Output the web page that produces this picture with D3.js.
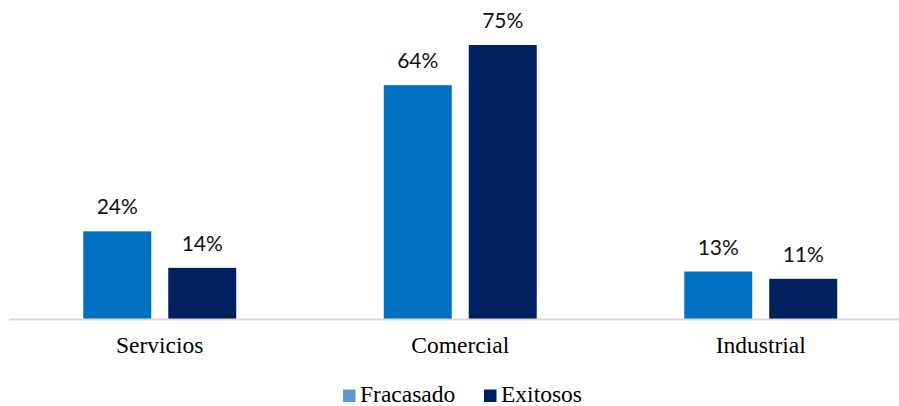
<!DOCTYPE html>
<html>
<head>
<meta charset="utf-8">
<script src="https://cdn.jsdelivr.net/npm/d3@7"></script>
<style>
  html, body { margin: 0; padding: 0; background: #fff; }
  svg { display: block; }
</style>
</head>
<body>
<svg id="chart" width="899" height="406"></svg>
<script>
// Sector categories and series values (percent)
const categories = ["Servicios", "Comercial", "Industrial"];
const seriesNames = ["Fracasado", "Exitosos"];
const fracasado = [24, 64, 13];
const exitosos = [14, 75, 11];

const barColors = { Fracasado: "#0070C0", Exitosos: "#002060" };
const legendColors = { Fracasado: "#5B9BD5", Exitosos: "#002060" };

const width = 899, height = 406;
const baseY = 319;
const svg = d3.select("#chart");

const rows = categories.map((c, i) => ({
  category: c,
  values: [
    { series: "Fracasado", value: fracasado[i] },
    { series: "Exitosos", value: exitosos[i] }
  ]
}));

// Outer band per category, inner band per series
const x0 = d3.scaleBand()
  .domain(categories)
  .range([9.5, 911])
  .paddingInner(0.491)
  .paddingOuter(0.2455);

const x1 = d3.scaleBand()
  .domain(seriesNames)
  .range([0, x0.bandwidth()])
  .paddingInner(0.2);

const y = d3.scaleLinear()
  .domain([0, 75])
  .range([baseY, 45]);

// Bars
const groups = svg.append("g").selectAll("g")
  .data(rows)
  .join("g")
  .attr("transform", d => `translate(${x0(d.category)},0)`);

groups.selectAll("rect")
  .data(d => d.values)
  .join("rect")
  .attr("x", d => x1(d.series))
  .attr("y", d => y(d.value))
  .attr("width", x1.bandwidth())
  .attr("height", d => baseY - y(d.value))
  .attr("fill", d => barColors[d.series]);

// Value labels
groups.selectAll("text")
  .data(d => d.values)
  .join("text")
  .attr("x", d => x1(d.series) + x1.bandwidth() / 2)
  .attr("y", d => y(d.value) - 17)
  .attr("text-anchor", "middle")
  .attr("font-family", "Lato, 'Open Sans', sans-serif")
  .attr("font-size", 21)
  .attr("fill", "#111")
  .text(d => d.value + "%");

// Category axis
svg.append("line")
  .attr("x1", 9).attr("x2", width)
  .attr("y1", baseY + 0.5).attr("y2", baseY + 0.5)
  .attr("stroke", "#d9d9d9")
  .attr("stroke-width", 2);

const xAxis = d3.axisBottom(x0).tickSize(0).tickPadding(0);
const axisG = svg.append("g")
  .attr("transform", `translate(0,${baseY})`)
  .call(xAxis);
axisG.select(".domain").remove();
axisG.selectAll("text")
  .attr("y", 33.5)
  .attr("dy", 0)
  .attr("font-family", "'Liberation Serif', 'Times New Roman', serif")
  .attr("font-size", 23.5)
  .attr("fill", "#000");

// Legend
const legendItems = [
  { name: "Fracasado", x: 343 },
  { name: "Exitosos", x: 484 }
];
const legend = svg.append("g");
legend.selectAll("rect")
  .data(legendItems)
  .join("rect")
  .attr("x", d => d.x)
  .attr("y", 389.5)
  .attr("width", 12.5)
  .attr("height", 12.5)
  .attr("fill", d => legendColors[d.name]);
legend.selectAll("text")
  .data(legendItems)
  .join("text")
  .attr("x", d => d.x + 17)
  .attr("y", 402)
  .attr("font-family", "'Liberation Serif', 'Times New Roman', serif")
  .attr("font-size", 23.5)
  .attr("fill", "#000")
  .text(d => d.name);
</script>
</body>
</html>
